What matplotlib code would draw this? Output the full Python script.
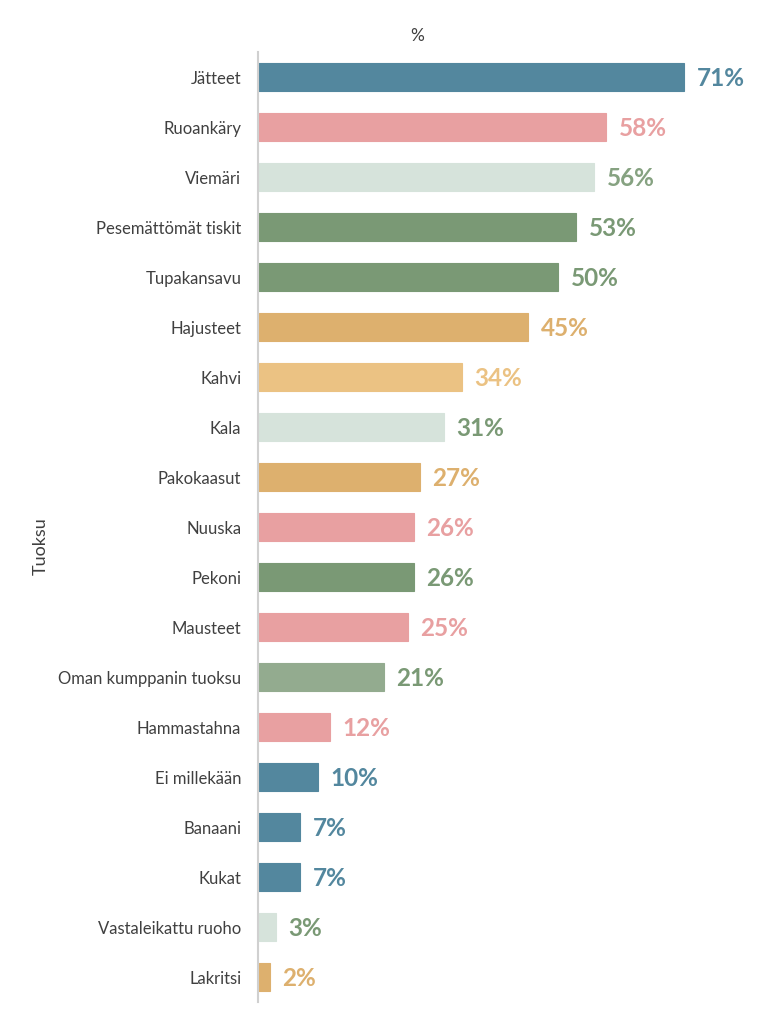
import matplotlib
matplotlib.use('Agg')
import matplotlib.pyplot as plt

# Data
categories = ['Jätteet', 'Ruoankäry', 'Viemäri', 'Pesemättömät tiskit', 'Tupakansavu',
              'Hajusteet', 'Kahvi', 'Kala', 'Pakokaasut', 'Nuuska', 'Pekoni', 'Mausteet',
              'Oman kumppanin tuoksu', 'Hammastahna', 'Ei millekään', 'Banaani', 'Kukat',
              'Vastaleikattu ruoho', 'Lakritsi']
values = [71, 58, 56, 53, 50, 45, 34, 31, 27, 26, 26, 25, 21, 12, 10, 7, 7, 3, 2]
labels = ['71%', '58%', '56%', '53%', '50%', '45%', '34%', '31%', '27%', '26%', '26%',
          '25%', '21%', '12%', '10%', '7%', '7%', '3%', '2%']

BLUE = '#53879E'
PINK = '#E8A0A1'
PALE = '#D6E3DB'
GREEN = '#7A9975'
GOLD = '#DDB06E'
LGOLD = '#EBC283'
MGREEN = '#93AB8F'

bar_colors = [BLUE, PINK, PALE, GREEN, GREEN, GOLD, LGOLD, PALE, GOLD, PINK, GREEN, PINK,
              MGREEN, PINK, BLUE, BLUE, BLUE, PALE, GOLD]
text_colors = [BLUE, PINK, '#86A281', GREEN, GREEN, GOLD, LGOLD, GREEN, GOLD, PINK, GREEN,
               PINK, GREEN, PINK, BLUE, BLUE, BLUE, GREEN, GOLD]

plt.rcParams['font.family'] = ['Lato', 'DejaVu Sans']

fig = plt.figure(figsize=(7.6, 10.24), dpi=100)
ax = fig.add_axes([258 / 760, 22 / 1024, 480 / 760, 950 / 1024])

y = list(range(len(categories)))
ax.barh(y, values, height=0.56, color=bar_colors,
        edgecolor=bar_colors, linewidth=0.8)

for yi, v, lab, tc in zip(y, values, labels, text_colors):
    ax.text(v + 2.1, yi + 0.03, lab, va='center', ha='left', fontsize=17.5,
            fontweight='bold', color=tc)

ax.set_ylim(len(categories) - 0.5, -0.5)
ax.set_xlim(0, 80)
ax.set_yticks(y)
ax.set_yticklabels(categories, fontsize=12, color='#404040')
ax.tick_params(axis='y', length=0, pad=12)
ax.set_xticks([])

for s in ['top', 'right', 'bottom']:
    ax.spines[s].set_visible(False)
ax.spines['left'].set_color('#D0D0D0')
ax.spines['left'].set_linewidth(1.5)

ax.set_ylabel('Tuoksu', fontsize=13, color='#404040')
ax.yaxis.set_label_coords(-(258 - 49) / 480, 0.48)
ax.set_title('%', fontsize=12.5, color='#404040', x=(417 - 258) / 480, pad=8)

plt.savefig('out.png', dpi=100)
